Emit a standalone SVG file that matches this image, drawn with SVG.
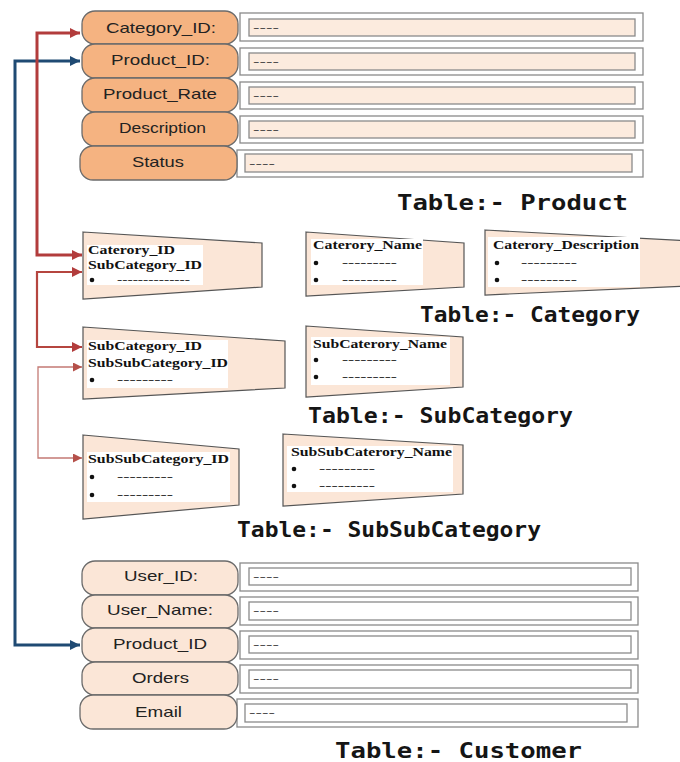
<svg xmlns="http://www.w3.org/2000/svg" width="680" height="762" viewBox="0 0 680 762">
<defs>
<style>
.pillP{fill:#f5b381;stroke:#6b6b6b;stroke-width:1.3}
.pillC{fill:#fbe6d7;stroke:#6b6b6b;stroke-width:1.3}
.outer{fill:#fff;stroke:#8a8a8a;stroke-width:1.3}
.innerP{fill:#fcebde;stroke:#8a8a8a;stroke-width:1.3}
.innerC{fill:#fff;stroke:#8a8a8a;stroke-width:1.3}
.lbl{font-family:"Liberation Sans",Arial,sans-serif;font-size:15px;fill:#222;text-anchor:start}
.dash{font-family:"Liberation Sans",Arial,sans-serif;font-size:11px;fill:#444}
.trap{fill:#fbe6d7;stroke:#555;stroke-width:1.2}
.wbox{fill:#fff}
.tt{font-family:"Liberation Serif","Times New Roman",serif;font-weight:bold;font-size:13px;fill:#111}
.td{font-family:"Liberation Serif","Times New Roman",serif;font-size:10px;fill:#111}
.title{font-family:"DejaVu Sans Mono","Liberation Mono",monospace;font-weight:bold;fill:#151515}
.red1{fill:none;stroke:#b23c3c;stroke-width:3}
.red2{fill:none;stroke:#b5453f;stroke-width:2.2}
.red3{fill:none;stroke:#c47a74;stroke-width:1.3}
.blue{fill:none;stroke:#1f4a73;stroke-width:3}
</style>
<marker id="ar" viewBox="0 0 10 10" refX="10" refY="5" markerUnits="userSpaceOnUse" markerWidth="13" markerHeight="10" orient="auto-start-reverse"><path d="M0,0 L10,5 L0,10 z" fill="#b23c3c"/></marker>
<marker id="ar3" viewBox="0 0 10 10" refX="10" refY="5" markerUnits="userSpaceOnUse" markerWidth="13" markerHeight="9" orient="auto-start-reverse"><path d="M0,0 L10,5 L0,10 z" fill="#b5504a"/></marker>
<marker id="ab" viewBox="0 0 10 10" refX="10" refY="5" markerUnits="userSpaceOnUse" markerWidth="13" markerHeight="10" orient="auto-start-reverse"><path d="M0,0 L10,5 L0,10 z" fill="#1f4a73"/></marker>
</defs>
<rect width="680" height="762" fill="#fff"/>

<g id="connectors">
<path class="blue" d="M80,61 H15 V645 H80" marker-start="url(#ab)" marker-end="url(#ab)"/>
<path class="red1" d="M80,33 H37 V255 H82" marker-start="url(#ar)" marker-end="url(#ar)"/>
<path class="red2" d="M82,272 H37 V347 H82" marker-start="url(#ar)" marker-end="url(#ar)"/>
<path class="red3" d="M82,367 H38 V458 H82" marker-start="url(#ar3)" marker-end="url(#ar3)"/>
</g>

<g id="product-table">
<g id="p-category-id">
<rect class="outer" x="240" y="13" width="403" height="28"/><rect class="innerP" x="249" y="19" width="386" height="17"/>
<text class="dash" x="253" y="31" textLength="26" lengthAdjust="spacingAndGlyphs">----</text>
<rect class="pillP" x="82" y="11" width="156" height="33" rx="13"/>
<text class="lbl" x="106" y="33" textLength="110" lengthAdjust="spacingAndGlyphs">Category_ID:</text>
</g>
<g id="p-product-id">
<rect class="outer" x="240" y="48" width="403" height="27"/><rect class="innerP" x="249" y="53" width="386" height="17"/>
<text class="dash" x="253" y="65" textLength="26" lengthAdjust="spacingAndGlyphs">----</text>
<rect class="pillP" x="82" y="44" width="156" height="34" rx="13"/>
<text class="lbl" x="111" y="65" textLength="99" lengthAdjust="spacingAndGlyphs">Product_ID:</text>
</g>
<g id="p-product-rate">
<rect class="outer" x="240" y="82" width="403" height="27"/><rect class="innerP" x="249" y="87" width="386" height="17"/>
<text class="dash" x="253" y="99" textLength="26" lengthAdjust="spacingAndGlyphs">----</text>
<rect class="pillP" x="82" y="78" width="156" height="34" rx="13"/>
<text class="lbl" x="103" y="99" textLength="114" lengthAdjust="spacingAndGlyphs">Product_Rate</text>
</g>
<g id="p-description">
<rect class="outer" x="240" y="116" width="403" height="27"/><rect class="innerP" x="249" y="121" width="386" height="17"/>
<text class="dash" x="253" y="133" textLength="26" lengthAdjust="spacingAndGlyphs">----</text>
<rect class="pillP" x="82" y="112" width="156" height="34" rx="13"/>
<text class="lbl" x="119" y="133" textLength="87" lengthAdjust="spacingAndGlyphs">Description</text>
</g>
<g id="p-status">
<rect class="outer" x="237" y="150" width="406" height="27"/><rect class="innerP" x="245" y="154" width="387" height="18"/>
<text class="dash" x="249" y="167" textLength="26" lengthAdjust="spacingAndGlyphs">----</text>
<rect class="pillP" x="80" y="146" width="157" height="34" rx="13"/>
<text class="lbl" x="132" y="167" textLength="52" lengthAdjust="spacingAndGlyphs">Status</text>
</g>
<text class="title" x="397" y="210" font-size="22" textLength="231" lengthAdjust="spacingAndGlyphs">Table:- Product</text>
</g>

<g id="category-table">
<g id="c-ids">
<polygon class="trap" points="83,232 262,243 262,287 83,299"/>
<rect class="wbox" x="87" y="245" width="116" height="40"/>
<text class="tt" x="88" y="254" textLength="87" lengthAdjust="spacingAndGlyphs">Caterory_ID</text>
<text class="tt" x="88" y="269" textLength="114" lengthAdjust="spacingAndGlyphs">SubCategory_ID</text>
<circle cx="92" cy="280" r="2.3" fill="#111"/>
<text class="td" x="117" y="282.5" textLength="73" lengthAdjust="spacingAndGlyphs">--------------</text>
</g>
<g id="c-name">
<polygon class="trap" points="306,232 464,243 464,287 306,296"/>
<rect class="wbox" x="311" y="239" width="112" height="46"/>
<text class="tt" x="313" y="249" textLength="109" lengthAdjust="spacingAndGlyphs">Caterory_Name</text>
<circle cx="316" cy="263" r="2.3" fill="#111"/>
<text class="td" x="342" y="265.5" textLength="55" lengthAdjust="spacingAndGlyphs">---------</text>
<circle cx="316" cy="280" r="2.3" fill="#111"/>
<text class="td" x="342" y="282.5" textLength="55" lengthAdjust="spacingAndGlyphs">---------</text>
</g>
<g id="c-description">
<polygon class="trap" points="485,230 690,241 690,286 485,295"/>
<rect class="wbox" x="488" y="237" width="152" height="50"/>
<text class="tt" x="493" y="249" textLength="146" lengthAdjust="spacingAndGlyphs">Caterory_Description</text>
<circle cx="497" cy="263" r="2.3" fill="#111"/>
<text class="td" x="521" y="265.5" textLength="56" lengthAdjust="spacingAndGlyphs">---------</text>
<circle cx="497" cy="280" r="2.3" fill="#111"/>
<text class="td" x="521" y="282.5" textLength="56" lengthAdjust="spacingAndGlyphs">---------</text>
</g>
<text class="title" x="420" y="322" font-size="21" textLength="220" lengthAdjust="spacingAndGlyphs">Table:- Category</text>
</g>

<g id="subcategory-table">
<g id="s-ids">
<polygon class="trap" points="83,327 285,341 285,388 83,399"/>
<rect class="wbox" x="87" y="340" width="141" height="48"/>
<text class="tt" x="88" y="350" textLength="114" lengthAdjust="spacingAndGlyphs">SubCategory_ID</text>
<text class="tt" x="88" y="367" textLength="140" lengthAdjust="spacingAndGlyphs">SubSubCategory_ID</text>
<circle cx="92" cy="380" r="2.3" fill="#111"/>
<text class="td" x="117" y="382.5" textLength="56" lengthAdjust="spacingAndGlyphs">---------</text>
</g>
<g id="s-name">
<polygon class="trap" points="306,326 463,337 463,387 306,397"/>
<rect class="wbox" x="311" y="337" width="139" height="48"/>
<text class="tt" x="313" y="348" textLength="134" lengthAdjust="spacingAndGlyphs">SubCaterory_Name</text>
<circle cx="316" cy="360" r="2.3" fill="#111"/>
<text class="td" x="342" y="362.5" textLength="55" lengthAdjust="spacingAndGlyphs">---------</text>
<circle cx="316" cy="377" r="2.3" fill="#111"/>
<text class="td" x="342" y="379.5" textLength="55" lengthAdjust="spacingAndGlyphs">---------</text>
</g>
<text class="title" x="308" y="423" font-size="21" textLength="265" lengthAdjust="spacingAndGlyphs">Table:- SubCategory</text>
</g>

<g id="subsubcategory-table">
<g id="ss-id">
<polygon class="trap" points="83,435 239,449 239,505 83,519"/>
<rect class="wbox" x="87" y="452" width="143" height="50"/>
<text class="tt" x="88" y="463" textLength="141" lengthAdjust="spacingAndGlyphs">SubSubCategory_ID</text>
<circle cx="92" cy="477" r="2.3" fill="#111"/>
<text class="td" x="117" y="479.5" textLength="56" lengthAdjust="spacingAndGlyphs">---------</text>
<circle cx="92" cy="495" r="2.3" fill="#111"/>
<text class="td" x="117" y="497.5" textLength="56" lengthAdjust="spacingAndGlyphs">---------</text>
</g>
<g id="ss-name">
<polygon class="trap" points="283,434 463,445 463,494 283,506"/>
<rect class="wbox" x="287" y="446" width="166" height="46"/>
<text class="tt" x="291" y="456" textLength="161" lengthAdjust="spacingAndGlyphs">SubSubCaterory_Name</text>
<circle cx="294" cy="469" r="2.3" fill="#111"/>
<text class="td" x="319" y="471.5" textLength="56" lengthAdjust="spacingAndGlyphs">---------</text>
<circle cx="294" cy="486" r="2.3" fill="#111"/>
<text class="td" x="319" y="488.5" textLength="56" lengthAdjust="spacingAndGlyphs">---------</text>
</g>
<text class="title" x="237" y="537" font-size="21" textLength="304" lengthAdjust="spacingAndGlyphs">Table:- SubSubCategory</text>
</g>

<g id="customer-table">
<g id="cu-user-id">
<rect class="outer" x="240" y="563" width="398" height="28"/><rect class="innerC" x="249" y="568" width="382" height="17"/>
<text class="dash" x="253" y="580" textLength="26" lengthAdjust="spacingAndGlyphs">----</text>
<rect class="pillC" x="82" y="561" width="156" height="34" rx="13"/>
<text class="lbl" x="124" y="581" textLength="74" lengthAdjust="spacingAndGlyphs">User_ID:</text>
</g>
<g id="cu-user-name">
<rect class="outer" x="240" y="597" width="398" height="28"/><rect class="innerC" x="249" y="602" width="382" height="18"/>
<text class="dash" x="253" y="614" textLength="26" lengthAdjust="spacingAndGlyphs">----</text>
<rect class="pillC" x="82" y="595" width="156" height="33" rx="13"/>
<text class="lbl" x="107" y="615" textLength="106" lengthAdjust="spacingAndGlyphs">User_Name:</text>
</g>
<g id="cu-product-id">
<rect class="outer" x="240" y="631" width="398" height="28"/><rect class="innerC" x="249" y="636" width="382" height="17"/>
<text class="dash" x="253" y="648" textLength="26" lengthAdjust="spacingAndGlyphs">----</text>
<rect class="pillC" x="82" y="628" width="156" height="34" rx="13"/>
<text class="lbl" x="113" y="649" textLength="94" lengthAdjust="spacingAndGlyphs">Product_ID</text>
</g>
<g id="cu-orders">
<rect class="outer" x="240" y="665" width="398" height="28"/><rect class="innerC" x="249" y="670" width="382" height="18"/>
<text class="dash" x="253" y="682" textLength="26" lengthAdjust="spacingAndGlyphs">----</text>
<rect class="pillC" x="82" y="662" width="156" height="33" rx="13"/>
<text class="lbl" x="132" y="683" textLength="57" lengthAdjust="spacingAndGlyphs">Orders</text>
</g>
<g id="cu-email">
<rect class="outer" x="237" y="699" width="401" height="28"/><rect class="innerC" x="245" y="704" width="382" height="18"/>
<text class="dash" x="249" y="716" textLength="26" lengthAdjust="spacingAndGlyphs">----</text>
<rect class="pillC" x="80" y="695" width="157" height="34" rx="13"/>
<text class="lbl" x="135" y="717" textLength="47" lengthAdjust="spacingAndGlyphs">Email</text>
</g>
<text class="title" x="335" y="758" font-size="22" textLength="247" lengthAdjust="spacingAndGlyphs">Table:- Customer</text>
</g>
</svg>
